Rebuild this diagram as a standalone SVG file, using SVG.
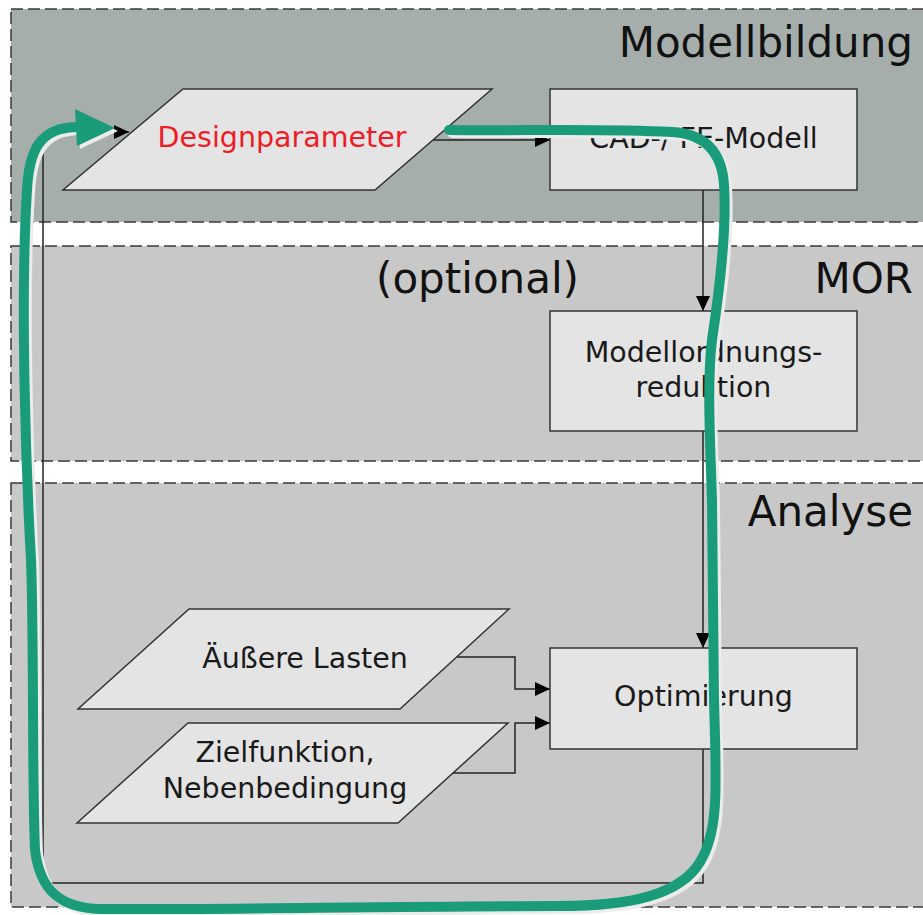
<svg xmlns="http://www.w3.org/2000/svg" width="923" height="915" viewBox="0 0 923 915">
<defs>
<style>
.band{stroke:#3a3a3a;stroke-width:1.5;stroke-dasharray:12 5}
.node{fill:#e4e4e4;stroke:#333;stroke-width:1.5}
.lbl{font-family:"DejaVu Sans",Verdana,sans-serif;font-size:28.5px;fill:#1a1a1a;text-anchor:middle}
.title{font-family:"DejaVu Sans",Verdana,sans-serif;font-size:42px;fill:#111}
.conn{fill:none;stroke:#222;stroke-width:1.5}
</style>
<marker id="ah" markerUnits="userSpaceOnUse" markerWidth="15" markerHeight="14" refX="15" refY="7" orient="auto">
<path d="M0,0 L15,7 L0,14 z" fill="#000"/>
</marker>
</defs>
<rect width="923" height="915" fill="#fff"/>
<g id="band-modellbildung">
<rect class="band" x="11" y="9" width="925" height="213" fill="#a6aeac"/>
<text class="title" x="913" y="57" text-anchor="end">Modellbildung</text>
</g>
<g id="band-mor">
<rect class="band" x="11" y="246" width="925" height="215" fill="#c8c8c8"/>
<text class="title" x="376" y="293">(optional)</text>
<text class="title" x="913" y="293" text-anchor="end">MOR</text>
</g>
<g id="band-analyse">
<rect class="band" x="11" y="483" width="925" height="424" fill="#c8c8c8"/>
<text class="title" x="913" y="526" text-anchor="end">Analyse</text>
</g>
<g id="connectors">
<path class="conn" d="M433,140 H550" marker-end="url(#ah)"/>
<path class="conn" d="M703,190 V311" marker-end="url(#ah)"/>
<path class="conn" d="M703,431 V648" marker-end="url(#ah)"/>
<path class="conn" d="M457,657 H515 V689 H550" marker-end="url(#ah)"/>
<path class="conn" d="M453,773 H515 V723 H550" marker-end="url(#ah)"/>
<path class="conn" d="M703,749 V883 H43 V150 C43,138 52,132 70,132 H129" marker-end="url(#ah)"/>
</g>
<g id="node-designparameter">
<polygon class="node" points="183,89 492,89 375,190 63,190"/>
<text class="lbl" x="282" y="147" style="fill:#ee1c24">Designparameter</text>
</g>
<g id="node-cad">
<rect class="node" x="550" y="89" width="307" height="101"/>
<text class="lbl" x="703.5" y="148">CAD-/ FE-Modell</text>
</g>
<g id="node-mor">
<rect class="node" x="550" y="311" width="307" height="120"/>
<text class="lbl" x="703.5" y="362">Modellordnungs-</text>
<text class="lbl" x="703.5" y="397">reduktion</text>
</g>
<g id="node-optimierung">
<rect class="node" x="550" y="648" width="307" height="101"/>
<text class="lbl" x="703.5" y="706">Optimierung</text>
</g>
<g id="node-lasten">
<polygon class="node" points="189,609 509,609 400,709 78,709"/>
<text class="lbl" x="305" y="668">Äußere Lasten</text>
</g>
<g id="node-ziel">
<polygon class="node" points="188,723 508,723 398,823 77,823"/>
<text class="lbl" x="285" y="762">Zielfunktion,</text>
<text class="lbl" x="285" y="798">Nebenbedingung</text>
</g>
<g id="loop">
<g transform="translate(3,3)" fill="#ececec" stroke="#ececec">
<path fill="none" stroke-width="10" stroke-linecap="round" d="M449,130 C520,131 600,128 672,132 C705,134 722,152 724,185 C727,230 718,300 712,340 C707,380 710,440 712,500 L714,700 C716,780 720,830 700,862 C680,895 630,906 560,906 C400,906 200,910 100,909 C60,908 40,890 35,850 C32,780 34,640 31,560 C26,470 20,300 27,190 C29,150 40,127 78,127"/>
<polygon stroke="none" points="75,109 115,128 77,146"/>
</g>
<path fill="none" stroke="#1a9c7b" stroke-width="10" stroke-linecap="round" d="M449,130 C520,131 600,128 672,132 C705,134 722,152 724,185 C727,230 718,300 712,340 C707,380 710,440 712,500 L714,700 C716,780 720,830 700,862 C680,895 630,906 560,906 C400,906 200,910 100,909 C60,908 40,890 35,850 C32,780 34,640 31,560 C26,470 20,300 27,190 C29,150 40,127 78,127"/>
<polygon fill="#1a9c7b" points="75,109 115,128 77,146"/>
</g>
</svg>
